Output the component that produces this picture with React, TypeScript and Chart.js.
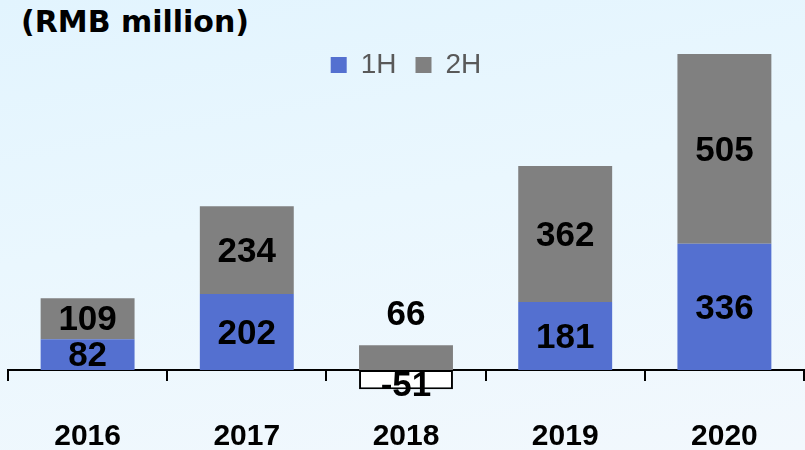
import React, { useEffect, useRef } from 'react';
import { Chart, registerables } from 'chart.js';

Chart.register(...registerables);

const categories = ['2016', '2017', '2018', '2019', '2020'];
const firstHalf = [82, 202, -51, 181, 336];
const secondHalf = [109, 234, 66, 362, 505];
const seriesNames = ['1H', '2H'];
const titleText = '(RMB million)';

const BLUE = '#5470D0';
const GRAY = '#808080';

const valueLabelPlugin = {
  id: 'valueLabels',
  afterDatasetsDraw(chart: any) {
    const ctx = chart.ctx;
    ctx.save();
    ctx.font = 'bold 35px "Liberation Sans", Arial, sans-serif';
    ctx.fillStyle = '#000';
    ctx.textAlign = 'center';
    ctx.textBaseline = 'middle';
    chart.data.datasets.forEach((ds: any, di: number) => {
      const meta = chart.getDatasetMeta(di);
      meta.data.forEach((bar: any, i: number) => {
        const v = ds.data[i];
        const { x, y, base } = bar.getProps(['x', 'y', 'base'], true);
        const h = Math.abs(base - y);
        let ty = (y + base) / 2 + 2;
        if (v < 0) ty += 5;
        else if (h < 30) ty = y - 30;
        ctx.fillText(String(v), x, ty);
      });
    });
    ctx.restore();
  },
};

export default function App() {
  const ref = useRef<HTMLCanvasElement | null>(null);

  useEffect(() => {
    if (!ref.current) return;
    const chart = new Chart(ref.current, {
      type: 'bar',
      data: {
        labels: categories,
        datasets: [
          {
            label: seriesNames[0],
            data: firstHalf,
            backgroundColor: (c: any) => (c.raw < 0 ? '#FFFFFF' : BLUE),
            borderColor: '#000000',
            borderWidth: (c: any) => (c.raw < 0 ? 2 : 0),
            borderSkipped: false,
            clip: false as any,
          },
          {
            label: seriesNames[1],
            data: secondHalf,
            backgroundColor: GRAY,
            borderWidth: 0,
            clip: false as any,
          },
        ],
      },
      options: {
        responsive: false,
        animation: false,
        events: [],
        layout: { padding: { left: 8, right: 1, top: 32, bottom: 0 } },
        datasets: {
          bar: { categoryPercentage: 1, barPercentage: 0.59 },
        },
        plugins: {
          title: { display: false },
          tooltip: { enabled: false },
          legend: {
            display: true,
            position: 'top',
            align: 'center',
            labels: {
              boxWidth: 16,
              boxHeight: 16,
              padding: 19,
              color: '#595959',
              font: { family: '"Liberation Sans", Arial, sans-serif', size: 28 },
              generateLabels: (ch: any) =>
                ch.data.datasets.map((d: any, i: number) => ({
                  text: d.label,
                  fillStyle: i === 0 ? BLUE : GRAY,
                  strokeStyle: i === 0 ? BLUE : GRAY,
                  lineWidth: 0,
                  hidden: false,
                  datasetIndex: i,
                  fontColor: '#595959',
                })),
            },
          },
        },
        scales: {
          x: {
            stacked: true,
            position: { y: 0 } as any,
            z: 1,
            offset: true,
            grid: {
              display: true,
              offset: true,
              drawOnChartArea: false,
              drawTicks: true,
              tickLength: 10,
              color: '#000000',
              lineWidth: 2,
            },
            border: { display: true, color: '#000000', width: 2 },
            ticks: {
              color: '#000000',
              padding: 39,
              font: { family: '"Liberation Sans", Arial, sans-serif', size: 30, weight: 'bold' },
            },
          },
          y: {
            stacked: true,
            display: false,
            min: -213,
            max: 748,
          },
        },
      },
      plugins: [valueLabelPlugin],
    } as any);
    return () => chart.destroy();
  }, []);

  return (
    <div
      style={{
        position: 'absolute',
        left: 0,
        top: 0,
        width: 805,
        height: 450,
        overflow: 'hidden',
        background: 'linear-gradient(170deg, #E2F4FE 0%, #EAF7FE 45%, #F2F8FD 100%)',
      }}
    >
      <div
        style={{
          position: 'absolute',
          left: 21,
          top: 1,
          fontFamily: '"DejaVu Sans", Verdana, sans-serif',
          fontWeight: 'bold',
          fontSize: 30,
          lineHeight: '42px',
          color: '#000',
          whiteSpace: 'nowrap',
        }}
      >
        {titleText}
      </div>
      <canvas ref={ref} width={805} height={450} style={{ position: 'absolute', left: 0, top: 0 }} />
    </div>
  );
}
